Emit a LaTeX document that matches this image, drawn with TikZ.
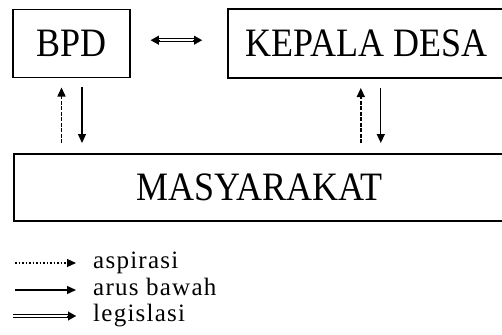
\documentclass[tikz,border=0pt]{standalone}
\usepackage{fontspec}
\setmainfont{Liberation Serif}
\usepackage{graphicx}
\usetikzlibrary{arrows.meta,positioning,calc}
\tikzset{
	>={Triangle[length=9pt,width=8pt]},
	box/.style={draw, line width=1.6pt, inner sep=0pt, font=\fontsize{36}{40}\selectfont},
	asp/.style={->, line width=1.4pt, dash pattern=on 4pt off 1.5pt},
	legasp/.style={->, line width=1.2pt, dash pattern=on 1.5pt off 2pt},
	arus/.style={->, line width=1.3pt},
	legis/.style={double, double distance=2pt, line width=1.1pt},
	ujung/.style={-{Triangle[length=8pt,width=9pt]}, line width=0.1pt},
	legtext/.style={font=\fontsize{25}{28}\selectfont\addfontfeatures{LetterSpace=5}, inner sep=0pt},
}
\newcommand{\tinggi}[1]{\scalebox{1}[1.12]{#1}}

\begin{document}
\begin{tikzpicture}[x=1pt,y=-1pt]
	\useasboundingbox (0,0) rectangle (502,334);
	\clip (0,0) rectangle (502,334);
	% kotak
	\node[box, minimum width=117pt, minimum height=68pt] (bpd) at (71.5,43.7) {\tinggi{BPD}};
	\node[box, anchor=west, minimum width=277pt, minimum height=69pt] (kades) at (227,43.7) {\tinggi{KEPALA DESA}};
	\node[box, anchor=north west, minimum width=491pt, minimum height=67pt] (masy) at (13,153) {\tinggi{MASYARAKAT}};
	% panah antar kotak
	\coordinate (dA) at ([xshift=20pt,yshift=3.5pt]bpd.east);
	\coordinate (dB) at ([xshift=-25pt,yshift=3.5pt]kades.west);
	\draw[legis, shorten <=5pt, shorten >=5pt] (dA) -- (dB);
	\draw[ujung] ([xshift=9pt]dA) -- (dA);
	\draw[ujung] ([xshift=-9pt]dB) -- (dB);
	\coordinate (bpdA) at ([xshift=-10pt]bpd.south);
	\coordinate (bpdB) at ([xshift=10.5pt]bpd.south);
	\coordinate (kadesA) at ([xshift=-5.5pt]kades.south);
	\coordinate (kadesB) at ([xshift=14.5pt]kades.south);
	\draw[asp, shorten <=10pt, shorten >=9pt] (bpdA |- masy.north) -- (bpdA);
	\draw[arus, shorten <=9pt, shorten >=10pt] (bpdB) -- (bpdB |- masy.north);
	\draw[asp, shorten <=10pt, shorten >=9pt] (kadesA |- masy.north) -- (kadesA);
	\draw[arus, shorten <=9pt, shorten >=10pt] (kadesB) -- (kadesB |- masy.north);
	% keterangan
	\coordinate (la) at (15,263);
	\coordinate (lb) at (15,290);
	\coordinate (lc) at (13,316);
	\node[legtext, anchor=base west] (ta) at (93,268) {aspirasi};
	\node[legtext, anchor=base west] (tb) at (93,295) {arus bawah};
	\node[legtext, anchor=base west] (tc) at (93,321) {legislasi};
	\draw[legasp] (la) -- ([xshift=-17pt]la -| ta.west);
	\draw[arus] (lb) -- ([xshift=-17pt]lb -| tb.west);
	\coordinate (lcEnd) at ([xshift=-17pt]lc -| tc.west);
	\draw[legis, shorten >=5pt] (lc) -- (lcEnd);
	\draw[ujung] ([xshift=-9pt]lcEnd) -- (lcEnd);
\end{tikzpicture}
\end{document}
